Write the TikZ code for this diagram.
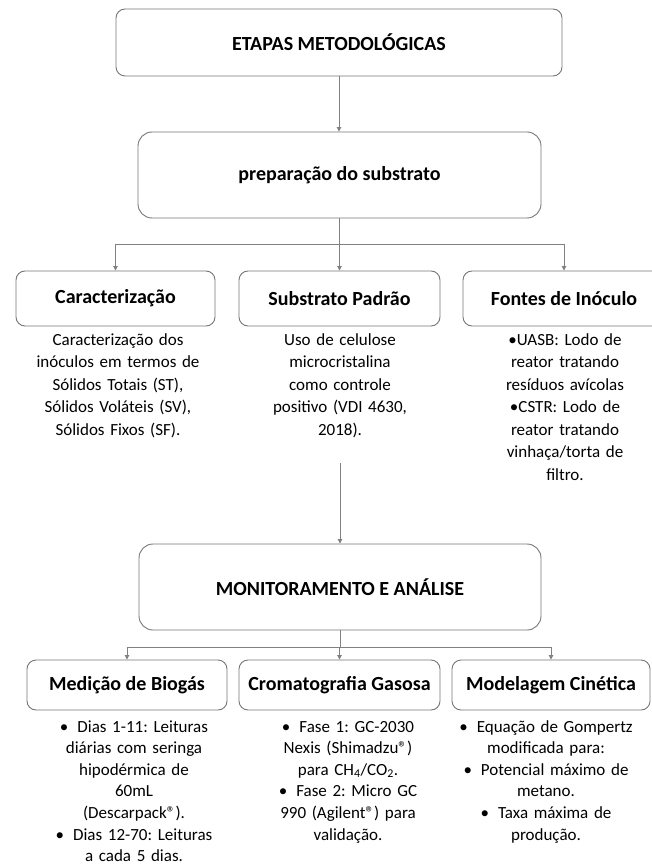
\documentclass[tikz,border=0pt]{standalone}
\usepackage{fontspec}
\setmainfont{Carlito}
\usetikzlibrary{arrows.meta}
\definecolor{linegray}{RGB}{128,128,128}
\definecolor{boxgray}{RGB}{118,118,118}
\frenchspacing
\begin{document}
\begin{tikzpicture}[x=1pt,y=-1pt]
\tikzset{
  box/.style={draw=boxgray, line width=0.9pt, rounded corners=9pt, fill=white, inner sep=0pt,
    font=\fontsize{20}{24}\selectfont\bfseries},
  bigbox/.style={box, rounded corners=14pt},
  body/.style={anchor=base, inner sep=0pt, text width=240pt, align=center,
    font=\frenchspacing\fontsize{17}{22.5}\selectfont},
  bodyb/.style={body, font=\frenchspacing\fontsize{17}{21.6}\selectfont},
  conn/.style={draw=linegray, line width=0.9pt},
  arr/.style={conn, -{Triangle[length=4.5pt,width=4.5pt]}},
}
\newcommand{\bul}{\textbullet\hspace{9pt}}
\useasboundingbox (0,0) rectangle (652,866);
\clip (0,0) rectangle (652,866);

% level 0 and 1
\node[box, minimum width=446pt, minimum height=67pt] (top) at (339,42.5) {ETAPAS METODOLÓGICAS};
\node[bigbox, minimum width=403pt, minimum height=86pt] (prep) at (339.5,175) {preparação do substrato};

% level 2
\node[box, minimum width=199pt, minimum height=55pt] (car) at (115.5,298.5) {Caracterização};
\node[box, minimum width=201pt, minimum height=55pt] (sub) at (339.5,298.5) {Substrato Padrão};
\node[box, minimum width=202pt, minimum height=55pt] (fon) at (564,298.5) {Fontes de Inóculo};

\node[body] (carT) at (118,345) {Caracterização dos\\inóculos em termos de\\Sólidos Totais (ST),\\Sólidos Voláteis (SV),\\Sólidos Fixos (SF).};
\node[body] (subT) at (340,345) {Uso de celulose\\microcristalina\\como controle\\positivo (VDI 4630,\\2018).};
\node[body] (fonT) at (565,345) {•UASB: Lodo de\\reator tratando\\resíduos avícolas\\•CSTR: Lodo de\\reator tratando\\vinhaça/torta de\\filtro.};

% level 3
\node[bigbox, minimum width=402pt, minimum height=86pt] (mon) at (340,587) {MONITORAMENTO E ANÁLISE};

\node[box, minimum width=200pt, minimum height=50pt] (med) at (127,685) {Medição de Biogás};
\node[box, minimum width=201pt, minimum height=50pt] (cro) at (339.5,685) {Cromatografia Gasosa};
\node[box, minimum width=198pt, minimum height=50pt] (mod) at (551,685) {Modelagem Cinética};

\node[bodyb] (medT) at (134,732) {\bul Dias 1-11: Leituras\\diárias com seringa\\hipodérmica de\\60mL\\(Descarpack®).\\\bul Dias 12-70: Leituras\\a cada 5 dias.};
\node[bodyb] (croT) at (348,732) {\bul Fase 1: GC-2030\\Nexis (Shimadzu®)\\para CH\textsubscript{4}/CO\textsubscript{2}.\\\bul Fase 2: Micro GC\\990 (Agilent®) para\\validação.};
\node[bodyb] (modT) at (546,732) {\bul Equação de Gompertz\\modificada para:\\\bul Potencial máximo de\\metano.\\\bul Taxa máxima de\\produção.};

% connectors
\coordinate (h1) at (0,244);
\coordinate (v1) at (0,463);
\coordinate (h2) at (0,647);
\draw[arr] (top.south) -- (top.south |- prep.north);
\draw[conn] (prep.south) -- (prep.south |- h1);
\draw[conn] (h1 -| car.north) -- (h1 -| fon.north);
\draw[arr] (h1 -| car.north) -- (car.north);
\draw[arr] (h1 -| sub.north) -- (sub.north);
\draw[arr] (h1 -| fon.north) -- (fon.north);
\draw[arr] (v1 -| mon.north) -- (mon.north);
\draw[conn] (mon.south) -- (mon.south |- h2);
\draw[conn] (h2 -| med.north) -- (h2 -| mod.north);
\draw[arr] (h2 -| med.north) -- (med.north);
\draw[arr] (h2 -| cro.north) -- (cro.north);
\draw[arr] (h2 -| mod.north) -- (mod.north);
\end{tikzpicture}
\end{document}
